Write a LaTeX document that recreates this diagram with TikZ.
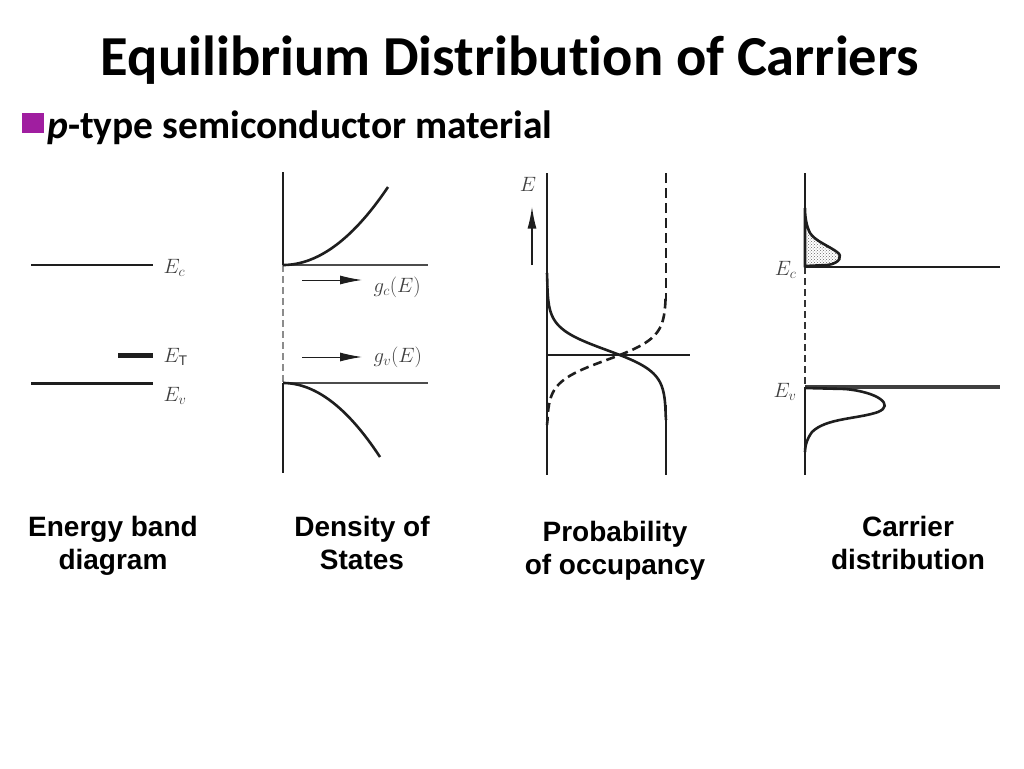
\documentclass[tikz,border=0pt]{standalone}
\usepackage{fontspec}
\setmainfont{Liberation Sans}
\newfontfamily\slidefont[Ligatures=NoCommon]{Carlito}
\usepackage{amsmath}
\usepackage{xcolor}
\usetikzlibrary{arrows,arrows.meta,calc,positioning,patterns}
\definecolor{bulletpurple}{RGB}{160,30,160}
\definecolor{scanink}{RGB}{30,30,30}
\tikzset{
  level/.style={draw=scanink, line width=2pt},
  axisline/.style={draw=scanink, line width=2pt},
  gapline/.style={draw=black!45, line width=2pt, dash pattern=on 7pt off 4pt},
  curve/.style={draw=scanink, line width=2.6pt},
  bandlabel/.style={text=black!75, font=\fontsize{20}{22}\selectfont},
  caption/.style={align=center, anchor=north, font=\fontsize{28}{33}\selectfont\bfseries},
  pointer/.style={draw=scanink, line width=1pt, -{Latex[length=22pt,width=9pt]}}
}
\begin{document}
\begin{tikzpicture}[x=1pt,y=-1pt]
\useasboundingbox (0,0) rectangle (1024,768);
% title and bullet
\node (title) at (510,60) {\slidefont\bfseries\fontsize{56.5}{62}\selectfont Equilibrium Distribution of Carriers};
\fill[bulletpurple] (22,113) rectangle (44,133);
\node[anchor=base west, inner sep=0pt] (subtitle) at (47,138) {\slidefont\bfseries\fontsize{39.5}{44}\selectfont \textit{p}-type semiconductor material};
% energy band diagram
\draw[level] (31,265) to (153,265);
\draw[level, line width=5pt] (118,355) to (153,355);
\draw[level, line width=3pt] (31,383) to (153,383);
\node[bandlabel, anchor=west] (ec1) at (160,268) {$E_c$};
\node[bandlabel, anchor=west] (et1) at (160,357) {$E_\mathrm{T}$};
\node[bandlabel, anchor=west] (ev1) at (160,396) {$E_v$};
% density of states
\draw[axisline] (283,172) to (283,265);
\draw[gapline] (283,265) to (283,383);
\draw[axisline] (283,383) to (283,473);
\draw[level, draw=black!70] (283,265) to (428,265);
\draw[level, draw=black!70] (283,383) to (428,383);
\draw[curve] plot[domain=0:105, samples=40] ({283+\x},{265-78*(\x/105)^2});
\draw[curve] plot[domain=0:97, samples=40] ({283+\x},{383+74*(\x/97)^2});
\coordinate (gc0) at (302,280);
\coordinate (gc1) at (362,280);
\coordinate (gv0) at (302,357);
\coordinate (gv1) at (362,357);
\node[bandlabel, anchor=west] (gc) at (370,287) {$g_c(E)$};
\node[bandlabel, anchor=west] (gv) at (370,357) {$g_v(E)$};
\draw[pointer] (gc0) to (gc1);
\draw[pointer] (gv0) to (gv1);
% probability of occupancy
\draw[axisline] (547,173) to (547,475);
\draw[gapline, draw=scanink, dash pattern=on 10pt off 5pt] (666,173) to (666,300);
\draw[axisline] (666,405) to (666,475);
\draw[level] (547,355) to (690,355);
\node[bandlabel] (e3) at (528,184) {$E$};
\coordinate (e3foot) at (532,265);
\draw[pointer, line width=1.5pt] (e3foot) to ($(e3.south)+(4,12)$);
\draw[curve] (547,273) -- (547.4,285)
  -- plot[domain=285:415, samples=60, variable=\t] ({547+119/(1+exp(-(\t-350)/11))},{\t})
  -- (666,420);
\draw[curve, dash pattern=on 9pt off 5pt] (666,300)
  -- plot[domain=300:420, samples=60, variable=\t] ({666-119/(1+exp(-(\t-360)/11))},{\t})
  -- (547,425);
% carrier distribution
\draw[axisline] (805,173) to (805,267);
\draw[gapline, draw=black!80] (805,267) to (805,387);
\draw[axisline] (805,387) to (805,475);
\draw[level] (805,267) to (1000,267);
\draw[level, line width=3.5pt, draw=black!75] (805,387) to (1000,387);
\draw[curve, pattern=crosshatch dots, pattern color=black!60] (805,266) -- (828,265)
  .. controls (840,263) and (843,256) .. (837,252)
  .. controls (829,246) and (815,241) .. (810,233)
  .. controls (806,225) and (805,216) .. (805,208) -- cycle;
\draw[curve] (805,388) -- (845,389)
  .. controls (878,392) and (895,405) .. (878,412)
  .. controls (858,419) and (826,418) .. (812,432)
  .. controls (806,440) and (805,448) .. (805,452);
\node[bandlabel, anchor=east] (ec4) at (800,270) {$E_c$};
\node[bandlabel, anchor=east] (ev4) at (800,392) {$E_v$};
% captions
\node[caption] (cap1) at (113,513) {Energy band\\diagram};
\node[caption] (cap2) at (362,513) {Density of\\States};
\node[caption] (cap3) at (615,518) {Probability\\of occupancy};
\node[caption] (cap4) at (908,513) {Carrier\\distribution};
\end{tikzpicture}
\end{document}
